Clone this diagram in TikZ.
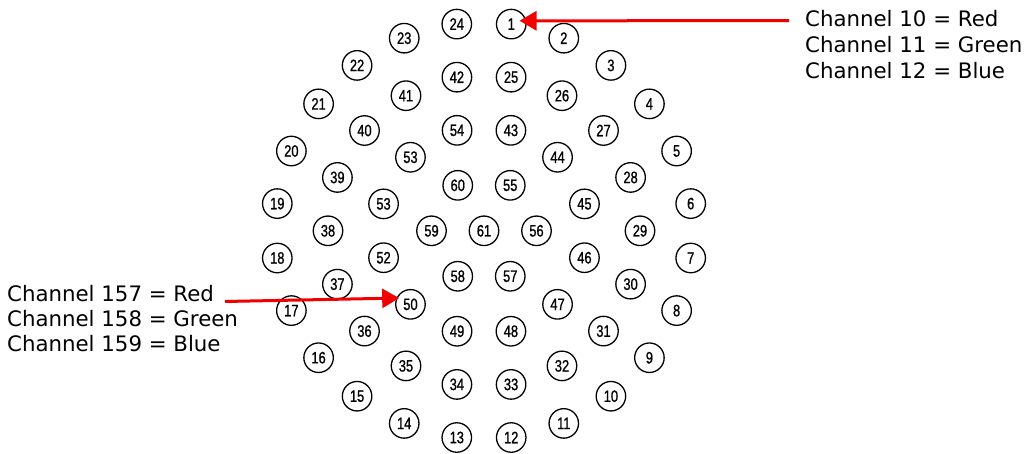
\documentclass[tikz,border=0pt]{standalone}
\usepackage{fontspec}
\usetikzlibrary{arrows.meta}
\newfontfamily\numfont[FakeStretch=0.78,FakeBold=1]{Liberation Sans}
\newfontfamily\labfont{DejaVu Sans}
\definecolor{arrowred}{RGB}{240,0,0}
\begin{document}
\begin{tikzpicture}[x=1bp,y=-1bp,
  spot/.style={draw=black,circle,line width=1.3bp,minimum size=29.5bp,inner sep=0pt,
    font=\numfont\fontsize{16.5bp}{16.5bp}\selectfont},
  chan/.style={anchor=base west,inner sep=0pt,font=\labfont\fontsize{21.3bp}{24bp}\selectfont},
  redarrow/.style={draw=arrowred,line width=3bp,-{Triangle[length=17bp,width=19bp]}}]
\useasboundingbox (0,0) rectangle (1032,454);
\def\cx{484}\def\cy{230.8}
% outer ring
\foreach \k in {1,...,24}{
  \pgfmathsetmacro\a{7.5+15*(\k-1)}
  \node[spot] (n\k) at ({\cx+208.5*sin(\a)},{\cy-208.5*cos(\a)}) {\k};
}
% second ring
\foreach \k in {25,...,42}{
  \pgfmathsetmacro\a{10+20*(\k-25)}
  \node[spot] (n\k) at ({\cx+156*sin(\a)},{\cy-156*cos(\a)}) {\k};
}
% third ring
\foreach \lab/\nm [count=\i from 0] in {43/43,44/44,45/45,46/46,47/47,48/48,49/49,50/50,52/51,53/52,53/53,54/54}{
  \pgfmathsetmacro\a{15+30*\i}
  \node[spot] (n\nm) at ({\cx+104*sin(\a)},{\cy-104*cos(\a)}) {\lab};
}
% inner ring
\foreach \k in {55,...,60}{
  \pgfmathsetmacro\a{30+60*(\k-55)}
  \node[spot] (n\k) at ({\cx+52.5*sin(\a)},{\cy-52.5*cos(\a)}) {\k};
}
\node[spot] (n61) at (\cx,\cy) {61};
% labels
\node[chan] (t1) at (805,26.7) {Channel 10 = Red};
\node[chan] (t2) at (805,52.4) {Channel 11 = Green};
\node[chan] (t3) at (805,78.2) {Channel 12 = Blue};
\node[chan] (b1) at (7,301.7) {Channel 157 = Red};
\node[chan] (b2) at (7,326.8) {Channel 158 = Green};
\node[chan] (b3) at (7,351.8) {Channel 159 = Blue};
% arrows
\coordinate (a1) at (789,20.7);
\coordinate (a2) at (225,301.5);
\draw[redarrow] (a1) -- ([shift={(8.3,-3.3)}]n1.center);
\draw[redarrow] (a2) -- ([shift={(-11.3,-6.3)}]n50.center);
\end{tikzpicture}
\end{document}
